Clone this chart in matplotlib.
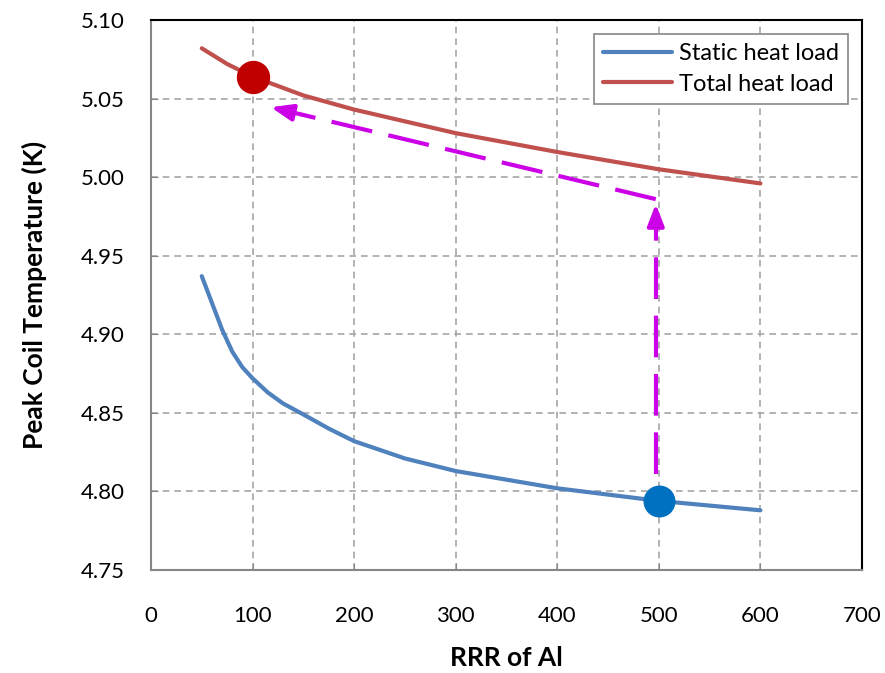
import matplotlib.pyplot as plt

plt.rcParams['font.family'] = ['Lato', 'DejaVu Sans']

# data
rrr_static = [50, 60, 70, 80, 90, 100, 115, 130, 150, 175, 200, 250, 300, 400, 500, 600]
t_static = [4.937, 4.920, 4.903, 4.889, 4.879, 4.872, 4.863, 4.856, 4.849, 4.840, 4.832,
            4.821, 4.813, 4.802, 4.794, 4.788]

rrr_total = [50, 75, 100, 150, 200, 300, 400, 500, 600]
t_total = [5.082, 5.072, 5.064, 5.052, 5.043, 5.028, 5.016, 5.005, 4.996]

# highlighted points
red_pt = (100, 5.064)
blue_pt = (500, 4.794)

# magenta path: up from blue point, then back to the red point
arrow_up = [(497, 4.811), (497, 4.983)]
arrow_back = [(497, 4.986), (118, 5.0445)]

xticks = [0, 100, 200, 300, 400, 500, 600, 700]
yticks = [4.75, 4.80, 4.85, 4.90, 4.95, 5.00, 5.05, 5.10]

fig = plt.figure(figsize=(8.85, 6.73), dpi=100)
ax = fig.add_axes([0.1706, 0.153, 0.8034, 0.8173])

ax.plot(rrr_static, t_static, color='#4F81BD', lw=3, label='Static heat load',
        solid_capstyle='round', solid_joinstyle='round', zorder=3)
ax.plot(rrr_total, t_total, color='#C0504D', lw=3, label='Total heat load',
        solid_capstyle='round', solid_joinstyle='round', zorder=3)

ax.plot(*red_pt, 'o', color='#C00000', ms=23, zorder=5)
ax.plot(*blue_pt, 'o', color='#0070C0', ms=22, zorder=5)

mag = '#CC00E6'
for seg in (arrow_up, arrow_back):
    (x0, y0), (x1, y1) = seg
    # dashed shaft, stopping short of the tip
    fx = x0 + (x1 - x0) * 0.92
    fy = y0 + (y1 - y0) * 0.92
    ax.plot([x0, fx], [y0, fy], color=mag, lw=3, dashes=(10, 4), zorder=4)
    ax.annotate('', xy=(x1, y1), xytext=(fx, fy),
                arrowprops=dict(arrowstyle='-|>,head_length=1.3,head_width=0.5',
                                color=mag, lw=3, shrinkA=0, shrinkB=0), zorder=4)

ax.set_xlim(0, 700)
ax.set_ylim(4.75, 5.10)
ax.set_xticks(xticks)
ax.set_yticks(yticks)
ax.set_yticklabels([f'{v:.2f}' for v in yticks])
ax.tick_params(direction='in', length=5, color='#868686', labelsize=16)
ax.tick_params(axis='y', pad=19)
ax.tick_params(axis='x', pad=26)

ax.grid(True, color='#A6A6A6', lw=1.2, linestyle=(0, (4, 3)))
ax.set_axisbelow(True)

for s in ('left', 'bottom'):
    ax.spines[s].set_color('#868686')
    ax.spines[s].set_linewidth(1.5)
for s in ('top', 'right'):
    ax.spines[s].set_color('black')
    ax.spines[s].set_linewidth(1.5)

ax.set_xlabel('RRR of Al', fontsize=19, fontweight='bold', labelpad=14)
ax.set_ylabel('Peak Coil Temperature (K)', fontsize=19, fontweight='bold', labelpad=24)

leg = ax.legend(loc='upper right', bbox_to_anchor=(0.981, 0.975), borderaxespad=0,
                fontsize=17, fancybox=False, framealpha=1, edgecolor='#868686',
                handlelength=2.9, handletextpad=0.3, borderpad=0.4, labelspacing=0.4)
leg.get_frame().set_linewidth(1.2)

fig.savefig('out.png', dpi=100)
